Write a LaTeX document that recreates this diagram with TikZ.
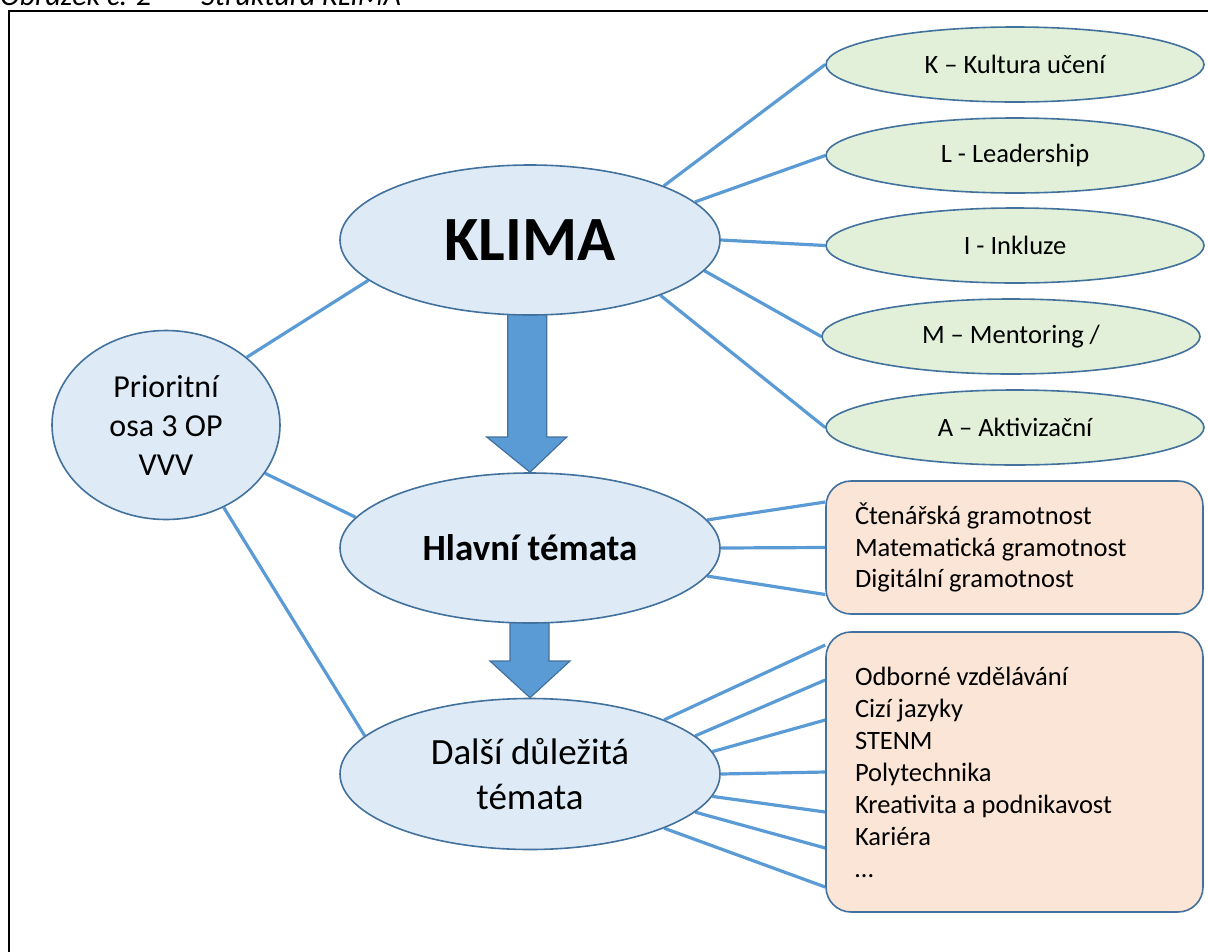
\documentclass[tikz,border=0pt]{standalone}
\usepackage{fontspec}
\setmainfont{Carlito}
\usetikzlibrary{shapes.geometric}
\definecolor{conn}{HTML}{5B9BD5}
\definecolor{edgeblue}{HTML}{41719C}
\definecolor{bluefill}{HTML}{DEEBF7}
\definecolor{greenfill}{HTML}{E2F0D9}
\definecolor{peachfill}{HTML}{FBE5D6}
\pgfdeclarelayer{bg}
\pgfsetlayers{bg,main}
\tikzset{
  blueell/.style={ellipse, draw=edgeblue, line width=1.6pt, fill=bluefill, inner sep=0pt, align=center},
  greenell/.style={ellipse, draw=edgeblue, line width=1.6pt, fill=greenfill, inner sep=0pt,
     minimum width=378pt, minimum height=75pt, font=\fontsize{26.5}{32}\selectfont},
  peachbox/.style={rectangle, rounded corners=25pt, draw=edgeblue, line width=1.6pt, fill=peachfill,
     minimum width=377pt, inner xsep=29pt, inner ysep=0pt, text width=319pt, align=flush left,
     font=\fontsize{26.5}{31.5}\selectfont},
  connector/.style={draw=conn, line width=3.2pt},
  blockarrow/.style={fill=conn, draw=edgeblue, line width=1.2pt, line join=miter},
}
\begin{document}
\begin{tikzpicture}[x=1pt,y=-1pt]
\useasboundingbox (0,0) rectangle (1208,951);
% caption (cut off at the top)
\node[anchor=base west, inner sep=0pt, font=\fontsize{30}{34}\selectfont\itshape] (caption) at (0,5) {Obrázek č. 2\hspace{50pt}Struktura KLIMA};
% frame
\draw[line width=1.8pt] (9,960) -- (9,11) -- (1220,11);

% nodes
\node[blueell, minimum width=380pt, minimum height=150pt, font=\fontsize{63}{70}\selectfont\bfseries] (klima) at (530,240) {KLIMA};
\node[blueell, minimum width=380pt, minimum height=150pt, font=\fontsize{37}{44}\selectfont\bfseries] (hlavni) at (530,548) {Hlavní témata};
\node[blueell, minimum width=380pt, minimum height=151pt, font=\fontsize{37}{45}\selectfont] (dalsi) at (530,774) {Další důležitá\\témata};
\node[blueell, minimum width=228pt, minimum height=189pt, font=\fontsize{32}{39}\selectfont] (prio) at (166,425) {Prioritní\\osa 3 OP\\VVV};

\node[greenell] (k) at (1015,64.5) {K – Kultura učení};
\node[greenell] (l) at (1015,155.5) {L - Leadership};
\node[greenell] (i) at (1015,245.5) {I - Inkluze};
\node[greenell] (m) at (1011,336.5) {M – Mentoring /};
\node[greenell] (a) at (1015,427.5) {A – Aktivizační};

\node[peachbox, minimum height=133pt] (box1) at (1014.5,547.5) {Čtenářská gramotnost\\Matematická gramotnost\\Digitální gramotnost};
\node[peachbox, minimum height=280pt, font=\fontsize{26.5}{32}\selectfont] (box2) at (1014.5,772) {Odborné vzdělávání\\Cizí jazyky\\STENM\\Polytechnika\\Kreativita a podnikavost\\Kariéra\\…};

\begin{pgfonlayer}{bg}
% block arrows
\draw[blockarrow] (507.7,300) -- (546.7,300) -- (546.7,437) -- (566.7,437) -- (hlavni.north) -- (486.7,437) -- (507.7,437) -- cycle;
\draw[blockarrow] (510,610) -- (549,610) -- (549,661) -- (570,661) -- (dalsi.north) -- (490,661) -- (510,661) -- cycle;
% connectors
\draw[connector] (klima.22) -- (k.west);
\draw[connector] (klima.13.5) -- (l.west);
\draw[connector] (klima.0) -- (i.west);
\draw[connector] (klima.-10.5) -- (m.west);
\draw[connector] (klima.-23) -- (a.west);
\draw[connector] (prio.40) -- (klima.194.5);
\draw[connector] (prio.-26) -- (hlavni.170);
\draw[connector] (prio.-55.2) -- (dalsi.167.5);
\draw[connector] (hlavni.9) -- ([yshift=45.5pt]box1.west);
\draw[connector] (hlavni.0) -- (box1.west);
\draw[connector] (hlavni.-9.6) -- ([yshift=-47pt]box1.west);
\draw[connector] (dalsi.22.8) -- ([yshift=127pt]box2.west);
\draw[connector] (dalsi.13.8) -- ([yshift=92pt]box2.west);
\draw[connector] (dalsi.7.4) -- ([yshift=52pt]box2.west);
\draw[connector] (dalsi.0) -- (box2.west);
\draw[connector] (dalsi.-7.2) -- ([yshift=-40pt]box2.west);
\draw[connector] (dalsi.-13.1) -- ([yshift=-76pt]box2.west);
\draw[connector] (dalsi.-22.2) -- ([yshift=-115pt]box2.west);
\end{pgfonlayer}
\end{tikzpicture}
\end{document}
